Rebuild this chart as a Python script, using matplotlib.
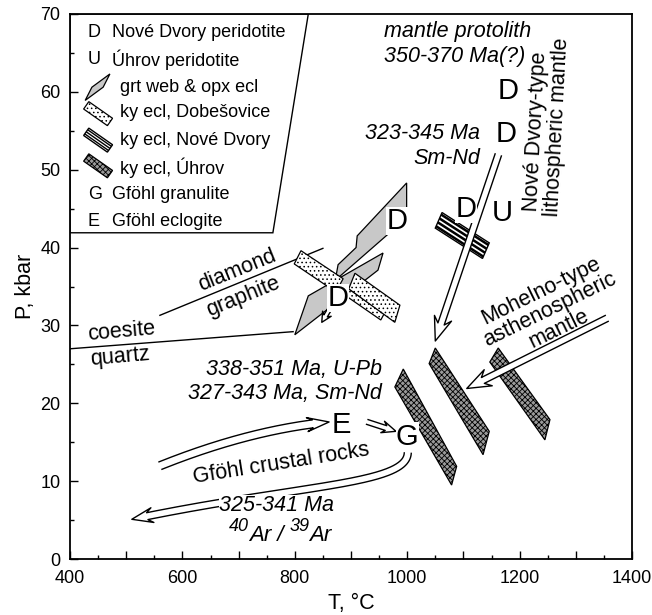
import numpy as np
import matplotlib
matplotlib.use('Agg')
import matplotlib.pyplot as plt
from matplotlib.patches import Polygon
from math import comb

plt.rcParams['font.family'] = ['Liberation Sans', 'DejaVu Sans']
plt.rcParams['hatch.linewidth'] = 0.6

# ---- data, T in deg C and P in kbar ----
x_ticks = [400, 500, 600, 700, 800, 900, 1000, 1100, 1200, 1300, 1400]
x_labels = ['400', '', '600', '', '800', '', '1000', '', '1200', '', '1400']
y_ticks = [0, 10, 20, 30, 40, 50, 60, 70]

legend_box = [(400, 70), (824, 70), (761, 41.9), (400, 41.9)]

coesite_T = [400, 797]
coesite_P = [27.0, 29.2]
diamond_T = [560, 850]
diamond_P = [31.3, 39.9]

# grt websterite & opx eclogite fields
grt_fields = [
    [(800, 28.8), (824, 33.8), (957, 39.3), (948, 37.1)],
    [(999, 48.3), (911, 41.5), (909, 40.0), (877, 37.8), (872, 35.8), (964, 41.6), (999, 43.5)],
]
# ky eclogite, Dobesovice
dob_fields = [
    [(811, 39.6), (799, 37.9), (873, 34.3), (886, 36.0)],
    [(896, 34.7), (891, 33.8), (953, 30.7), (959, 31.5)],
    [(907, 36.7), (896, 34.7), (978, 30.4), (987, 32.6)],
]
# ky eclogite, Nove Dvory
nd_field = [(1062, 44.5), (1050, 42.5), (1134, 38.6), (1146, 40.6)]
# ky eclogite, Uhrov
uh_fields = [
    [(993, 24.4), (978, 22.1), (1079, 9.5), (1088, 11.9)],
    [(1050, 27.1), (1039, 25.1), (1135, 13.4), (1146, 16.4)],
    [(1162, 27.1), (1147, 25.3), (1245, 15.3), (1254, 17.9)],
]

# P-T paths (control points)
paths = [
    [(1162, 51.9), (1050, 28.0)],
    [(1355, 30.9), (1106, 21.9)],
    [(561, 12.0), (720, 16.6), (861, 17.6)],
    [(929, 17.6), (980, 16.4)],
    [(1001, 13.6), (998, 9.5), (809, 9.6), (510, 5.1)],
    [(872, 33.3), (848, 30.4)],
]
# shaft half width, head length, head half width (px)
path_sizes = [(3.3, 24, 9), (3.3, 24, 9), (4, 22, 7), (2.5, 14, 6), (3.5, 21, 7.5), (2, 10, 5)]

letters = ['D', 'D', 'D', 'U', 'D', 'D', 'E', 'G']
letter_T = [1179, 1176, 1105, 1169, 982, 877, 882, 1000]
letter_P = [60.1, 54.6, 45.0, 44.4, 43.4, 33.5, 17.2, 15.7]

leg_keys = ['D', 'U', '', '', '', '', 'G', 'E']
leg_labels = ['Nové Dvory peridotite', 'Úhrov peridotite', 'grt web & opx ecl',
              'ky ecl, Dobešovice', 'ky ecl, Nové Dvory', 'ky ecl, Úhrov',
              'Gföhl granulite', 'Gföhl eclogite']
leg_P = [67.6, 64.1, 60.5, 57.3, 53.7, 50.2, 46.8, 43.4]

fig = plt.figure(figsize=(6.52, 6.15), dpi=100)
ax = fig.add_axes([70 / 652, 56 / 615, 562 / 652, 545 / 615])
ax.set_xlim(400, 1400)
ax.set_ylim(0, 70)
inv = ax.transData.inverted()


def hollow_arrow(ctrl, hw, L, W, lw=1.0):
    P = ax.transData.transform(np.array(ctrl, float))
    n = len(P) - 1
    t = np.linspace(0, 1, 200)[:, None]
    c = sum(comb(n, i) * (1 - t) ** (n - i) * t ** i * P[i] for i in range(n + 1))
    s = np.concatenate([[0], np.cumsum(np.hypot(*np.diff(c, axis=0).T))])
    tip = c[-1]
    u = tip - c[np.searchsorted(s, s[-1] - L)]
    u = u / np.hypot(*u)
    nu = np.array([-u[1], u[0]])
    base = tip - 0.75 * L * u
    sh = c[s < s[-1] - 0.75 * L]
    d = np.gradient(sh, axis=0)
    d = d / np.hypot(d[:, 0], d[:, 1])[:, None]
    nn = np.column_stack([-d[:, 1], d[:, 0]])
    left = np.vstack([sh + hw * nn, base + hw * nu])
    right = np.vstack([sh - hw * nn, base - hw * nu])
    head = np.array([tip - L * u + W * nu, tip, tip - L * u - W * nu])
    xy = inv.transform(np.vstack([left, head, right[::-1]]))
    ax.add_patch(Polygon(xy, closed=True, fc='white', ec='none', zorder=4))
    ax.plot(xy[:, 0], xy[:, 1], color='k', lw=lw, zorder=4.1)


def icon_rect(T, P, length, thick, angle):
    c = ax.transData.transform((T, P))
    a = np.deg2rad(angle)
    u = np.array([np.cos(a), np.sin(a)]) * length / 2
    v = np.array([-np.sin(a), np.cos(a)]) * thick / 2
    return inv.transform([c - u + v, c - u - v, c + u - v, c + u + v])


def stripes(patch, verts, fr, lw):
    v = ax.transData.transform(np.array(verts, float))
    along = v[2] - v[1]
    across = v[0] - v[1]
    for f in fr:
        q = inv.transform([v[1] + f * across - 0.1 * along, v[2] + f * across + 0.1 * along])
        ln, = ax.plot(q[:, 0], q[:, 1], color='k', lw=lw, solid_capstyle='butt',
                      zorder=patch.get_zorder() + 0.01)
        ln.set_clip_path(patch)


def field(verts, kind, z=3, icon=False):
    if kind == 'grt':
        p = Polygon(verts, fc='#c8c8c8', ec='k', lw=0.9, zorder=z)
    elif kind == 'dob':
        p = Polygon(verts, fc='white', ec='k', lw=0.9, hatch='....', zorder=z)
    elif kind == 'uh':
        p = Polygon(verts, fc='#9a9a9a', ec='k', lw=0.9, hatch='xxxxxx', zorder=z)
    else:
        p = Polygon(verts, fc='white', ec='k', lw=1.0, zorder=z)
    ax.add_patch(p)
    if kind == 'nd':
        if icon:
            stripes(p, verts, (0.22, 0.5, 0.78), 1.0)
        else:
            stripes(p, verts, (0.12, 0.37, 0.62, 0.87), 1.8)
    return p


def chain_text(T, P, parts, **kw):
    # parts: (string, fontsize, raise in px); centred on (T, P)
    r = fig.canvas.get_renderer()
    objs = [ax.text(0, 0, s, fontsize=f, va='baseline', ha='left', **kw) for s, f, _ in parts]
    widths = [o.get_window_extent(r).width for o in objs]
    x, y = ax.transData.transform((T, P))
    x -= sum(widths) / 2
    for o, w, (_, _, up) in zip(objs, widths, parts):
        o.set_position(inv.transform((x, y + up)))
        x += w


# legend frame
ax.add_patch(Polygon(legend_box, closed=True, fc='white', ec='k', lw=1.0, zorder=1))

# reaction lines
ax.plot(coesite_T, coesite_P, color='k', lw=1.0, zorder=2)
ax.plot(diamond_T, diamond_P, color='k', lw=1.0, zorder=2)

for v in grt_fields:
    field(v, 'grt', 2)
for v in dob_fields:
    field(v, 'dob', 3)
field(nd_field, 'nd', 3)
for v in uh_fields:
    field(v, 'uh', 3)

for ctrl, (hw, L, W) in zip(paths, path_sizes):
    hollow_arrow(ctrl, hw, L, W)

for s, T, P in zip(letters, letter_T, letter_P):
    ax.text(T, P, s, fontsize=21, ha='center', va='center', zorder=6,
            bbox=dict(fc='white', ec='none', pad=0.3))

# legend content
for k, lab, P in zip(leg_keys, leg_labels, leg_P):
    if k:
        ax.text(432, P, k, fontsize=13, va='center', zorder=2)
        ax.text(475, P, lab, fontsize=13, va='center', zorder=2)
    else:
        ax.text(489, P, lab, fontsize=13, va='center', zorder=2)
field([(427, 58.9), (439, 60.6), (471, 62.3), (459, 60.6)], 'grt', 2)
field(icon_rect(450, 57.2, 29, 9, -35), 'dob', 2)
field(icon_rect(450, 53.8, 29, 9, -35), 'nd', 2, icon=True)
field(icon_rect(450, 50.5, 29, 9, -35), 'uh', 2)

# annotations
fs = 15.5
ax.text(492, 29.2, 'coesite', fontsize=fs, rotation=5, ha='center', va='center')
ax.text(489, 25.9, 'quartz', fontsize=fs, rotation=5, ha='center', va='center')
ax.text(697, 37.0, 'diamond', fontsize=fs, rotation=22, ha='center', va='center')
ax.text(708, 33.7, 'graphite', fontsize=fs, rotation=22, ha='center', va='center')
ax.text(1090, 67.8, 'mantle protolith', fontsize=fs, style='italic', ha='center', va='center')
ax.text(1085, 64.6, '350-370 Ma(?)', fontsize=fs, style='italic', ha='center', va='center')
ax.text(1130, 54.6, '323-345 Ma', fontsize=fs, style='italic', ha='right', va='center')
ax.text(1130, 51.4, 'Sm-Nd', fontsize=fs, style='italic', ha='right', va='center')
ax.text(1222, 44.6, 'Nové Dvory-type', fontsize=fs, rotation=87, rotation_mode='anchor',
        ha='left', va='center')
ax.text(1258, 44.0, 'lithospheric mantle', fontsize=fs, rotation=87, rotation_mode='anchor',
        ha='left', va='center')
ax.text(1254, 32.0, 'Mohelno-type\nasthenospheric\nmantle', fontsize=fs, rotation=26,
        ha='center', va='center', multialignment='center', linespacing=1.0)
ax.text(955, 24.3, '338-351 Ma, U-Pb', fontsize=fs, style='italic', ha='right', va='center')
ax.text(955, 21.3, '327-343 Ma, Sm-Nd', fontsize=fs, style='italic', ha='right', va='center')
ax.text(775, 12.3, 'Gföhl crustal rocks', fontsize=fs, rotation=9, ha='center', va='center')
ax.text(768, 6.9, '325-341 Ma', fontsize=fs, style='italic', ha='center', va='center', zorder=6,
        bbox=dict(fc='white', ec='none', pad=0.2))
chain_text(774, 2.3, [('40', 13, 10), ('Ar / ', 16, 0), ('39', 13, 10), ('Ar', 16, 0)],
           style='italic')

# axes
ax.set_xticks(x_ticks)
ax.set_xticklabels(x_labels)
ax.set_xticks(np.arange(450, 1400, 100), minor=True)
ax.set_yticks(y_ticks)
ax.set_yticks(np.arange(5, 70, 10), minor=True)
ax.tick_params(direction='in', length=6, width=1, labelsize=13, pad=8)
ax.tick_params(axis='y', pad=7)
ax.tick_params(which='minor', direction='in', length=3, width=1)
for sp in ax.spines.values():
    sp.set_linewidth(1.3)
    sp.set_zorder(7)
ax.set_xlabel('T, °C', fontsize=15.5, labelpad=4)
ax.set_ylabel('P, kbar', fontsize=15.5, labelpad=3)

fig.savefig('out.png', dpi=100)
